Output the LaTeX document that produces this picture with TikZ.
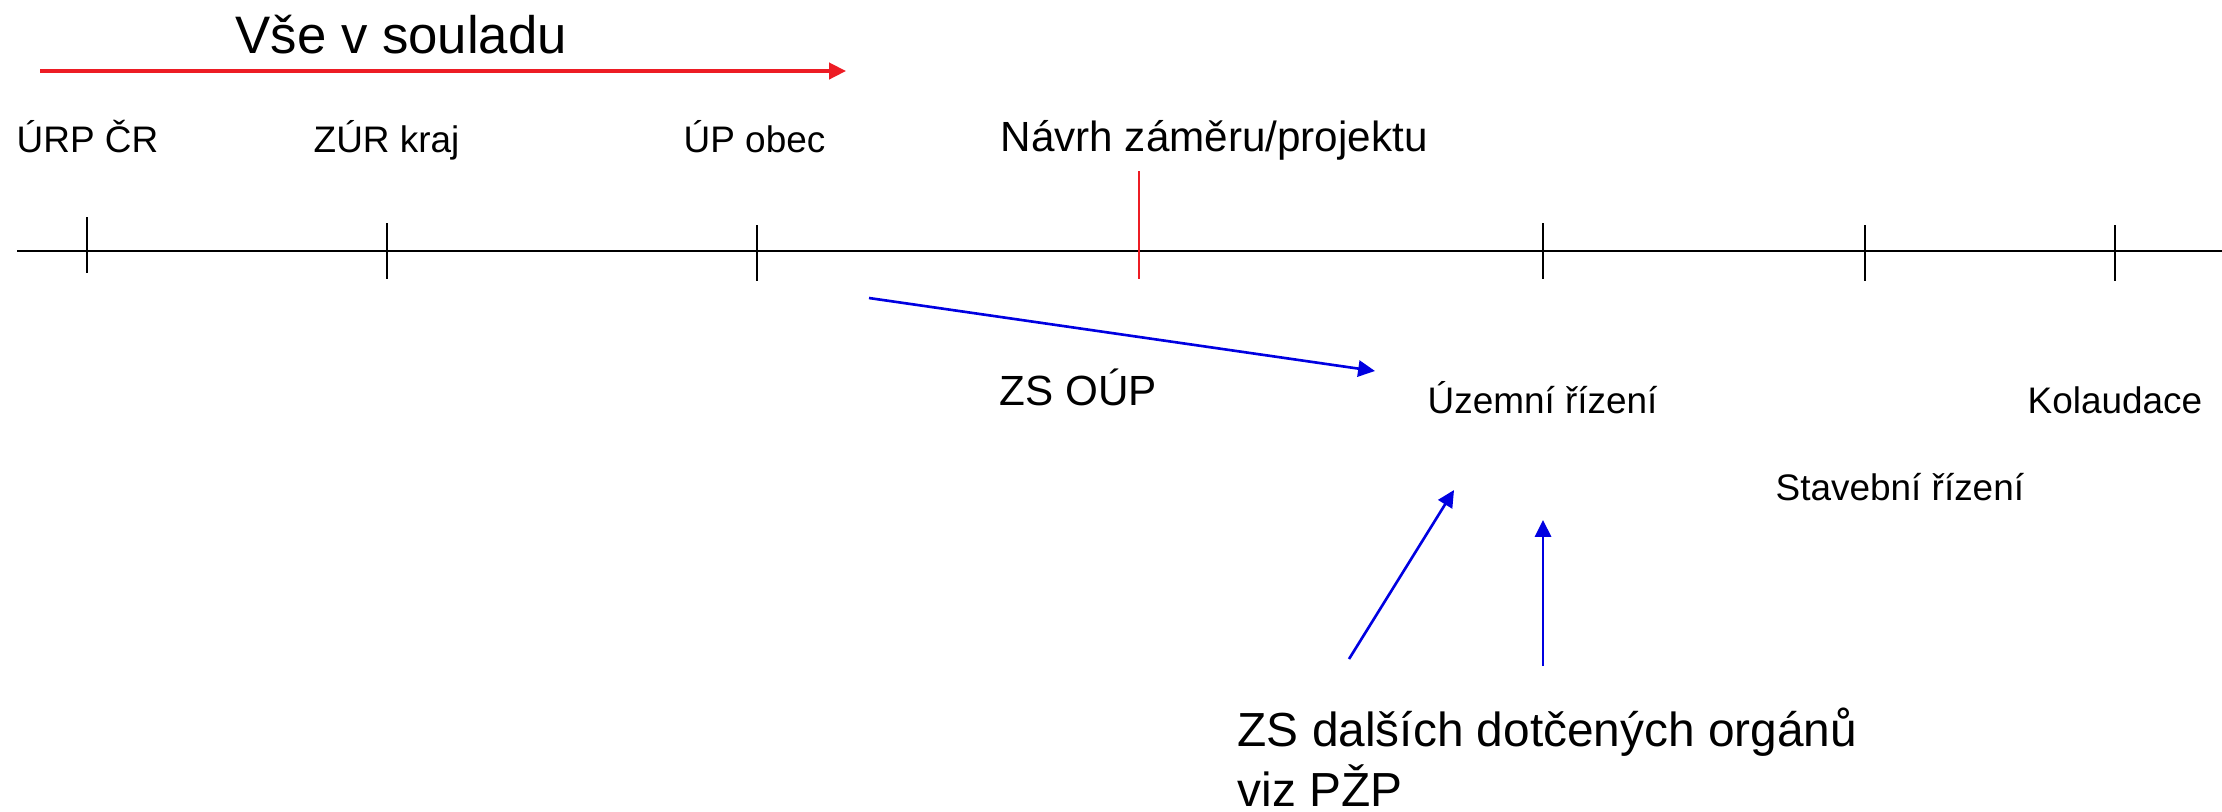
\documentclass[tikz,border=0pt]{standalone}
\usepackage{fontspec}
\setmainfont{Liberation Sans}
\usetikzlibrary{arrows.meta}
\definecolor{souladred}{RGB}{237,28,36}
\definecolor{zsblue}{RGB}{0,0,225}
\begin{document}
\begin{tikzpicture}[x={(0.01cm,0)},y={(0,-0.01cm)},
  lbl/.style={anchor=base west,inner sep=0pt,font=\fontsize{10.5}{12}\selectfont},
  big/.style={anchor=base west,inner sep=0pt,font=\fontsize{12}{14}\selectfont},
  tip/.style={-{Triangle[length=4.8pt,width=4.6pt]}}]
\useasboundingbox (0,0) rectangle (2222,811);
%
\node[anchor=base west,inner sep=0pt,font=\fontsize{15}{18}\selectfont](soulad) at (235,53){Vše v souladu};
\coordinate (s0) at (40,71);
\coordinate (s1) at (846,71);
\draw[souladred,line width=0.95pt,tip](s0)--(s1);
%
\coordinate (t0) at (17,251);
\coordinate (t1) at (2222,251);
\draw[line width=0.75pt](t0)--(t1);
\foreach \x/\a/\b in {87/217/273,387/223/279,757/225/281,1543/223/279,1865/225/281,2115/225/281}
  \draw[line width=0.45pt](\x,\a)--(\x,\b);
\draw[souladred,line width=0.45pt](1139,171)--(1139,279);
%
\node[lbl](urp) at (16,152){ÚRP ČR};
\node[lbl](zur) at (313,152){ZÚR kraj};
\node[lbl](up) at (683,152){ÚP obec};
\node[big](navrh) at (1000,151){Návrh záměru/projektu};
\node[big](oup) at (999,405){ZS OÚP};
\node[lbl](ur) at (1427,413){Územní řízení};
\node[lbl](kol) at (2027,413){Kolaudace};
\node[lbl](sr) at (1775,500){Stavební řízení};
\node[anchor=base west,inner sep=0pt,align=left,font=\fontsize{13.6}{17}\selectfont](dotc) at (1237,806){ZS dalších dotčených orgánů\\viz PŽP};
%
\coordinate (a0) at (869,298);
\coordinate (a1) at (1375,371);
\coordinate (b0) at (1349,659);
\coordinate (b1) at (1454,490);
\coordinate (c0) at (1543,666);
\coordinate (c1) at (1543,520);
\draw[zsblue,line width=0.75pt,tip](a0)--(a1);
\draw[zsblue,line width=0.75pt,tip](b0)--(b1);
\draw[zsblue,line width=0.75pt,tip](c0)--(c1);
\end{tikzpicture}
\end{document}
